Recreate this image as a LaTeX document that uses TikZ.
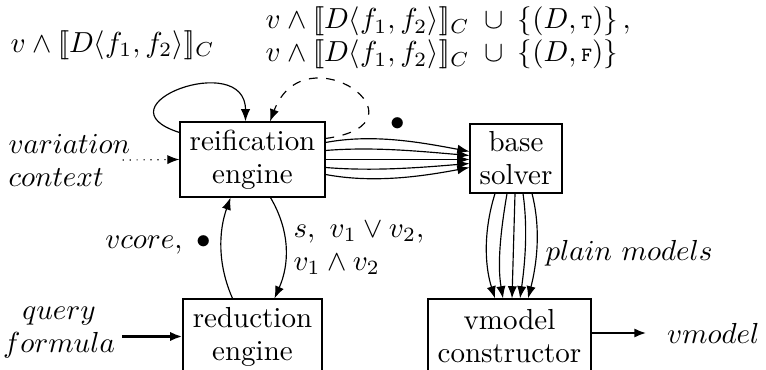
\documentclass[tikz,border=0pt]{standalone}
\usetikzlibrary{calc,arrows.meta}
\tikzset{every picture/.style={line width=0.4pt}}
\tikzset{block/.style={draw,align=center,inner sep=0pt},
  lbl/.style={inner sep=0pt},
  >={Latex[length=4.2pt,width=3.2pt]}}

\begin{document}
\begin{tikzpicture}[x=0.345pt,y=0.345pt,yscale=-1,xscale=1]
\useasboundingbox (0,0) rectangle (766,370);

%Blocks
\node[block,minimum width=50pt,minimum height=25.9pt] (reif) at (252.5,159.5) {reification\\[-0.6pt]engine};
\node[block,minimum width=48pt,minimum height=25.9pt] (red) at (252.5,336.5) {reduction\\[-0.6pt]engine};
\node[block,minimum width=31.7pt,minimum height=23.8pt] (base) at (516,158.5) {base\\[-0.6pt]solver};
\node[block,minimum width=56.2pt,minimum height=25.9pt] (vcon) at (509.5,336.5) {vmodel\\[-0.6pt]constructor};

%Text Nodes
\node[lbl,anchor=west,align=left] (ctx) at (8,160) {$variation$\\[-0.6pt]$context$};
\node[lbl,align=center] (qf) at (59,333) {$query$\\[-0.6pt]$formula$};
\node[lbl,anchor=east] (out) at (760,333) {$vmodel$};
\node[lbl,anchor=west] (pm) at (545,253) {$plain\ models$};
\node[lbl,anchor=east] (vc) at (212,245) {$vcore,\ \bullet$};
\node[lbl,anchor=west,align=left] (sv) at (293,248) {$s,\ v_1\lor v_2,$\\[-0.6pt]$v_1\land v_2$};
\node[lbl] (dot) at (398,124) {$\bullet$};
\node[lbl,anchor=west] (lpl) at (10,45) {$v\land[\![D\langle f_1,f_2\rangle]\!]_C$};
\node[lbl,anchor=west,align=left] (lpd) at (265,38)
  {$v\land[\![D\langle f_1,f_2\rangle]\!]_C\;\cup\;\{(D,\mbox{\scriptsize\texttt{T}})\}\,,$\\[-0.6pt]
   $v\land[\![D\langle f_1,f_2\rangle]\!]_C\;\cup\;\{(D,\mbox{\scriptsize\texttt{F}})\}$};

%Inputs and output
\draw[->,dotted] ($(ctx.east)+(-8,0)$) -- (reif.west);
\draw[->,line width=0.8pt] ($(qf.east |- red.west)+(7,0)$) -- (red.west);
\draw[->,line width=0.8pt] (vcon.east |- out.west) -- ($(out.west)+(-20,0)$);

%Self loops
\draw[->] ($(reif.west)+(0,-27)$) .. controls +(-85,-27) and +(0,-72) .. ($(reif.north)+(-7,0)$);
\draw[->,dashed] ($(reif.east)+(0,-21)$) .. controls +(110,-15) and +(35,-92) .. ($(reif.north)+(17.5,0)$);

%reification <-> reduction
\draw[->] ($(red.north)+(-20,0)$) .. controls +(-15,-34) and +(-12,34) .. ($(reif.south)+(-22,0)$);
\draw[->] ($(reif.south)+(18,0)$) .. controls +(20,34) and +(15,-34) .. ($(red.north)+(22,0)$);

%reification -> base solver
\draw[->] ($(reif.east)+(0,-17)$) .. controls +(48,-9) and +(-48,-9) .. ($(base.west)+(0,-7)$);
\draw[->] ($(reif.east)+(0,-9)$) .. controls +(48,-4) and +(-48,-4) .. ($(base.west)+(0,-3)$);
\draw[->] (reif.east) -- ($(base.west)+(0,1)$);
\draw[->] ($(reif.east)+(0,8)$) .. controls +(48,4) and +(-48,4) .. ($(base.west)+(0,5)$);
\draw[->] ($(reif.east)+(0,15)$) .. controls +(48,9) and +(-48,9) .. ($(base.west)+(0,9)$);

%base solver -> vmodel constructor
\draw[->] ($(base.south)+(-21,0)$) .. controls +(-11,35) and +(-11,-35) .. ($(vcon.north)+(-14.5,0)$);
\draw[->] ($(base.south)+(-9,0)$) .. controls +(-6,35) and +(-6,-35) .. ($(vcon.north)+(-6.5,0)$);
\draw[->] ($(base.south)+(-1,0)$) -- ($(vcon.north)+(2.5,0)$);
\draw[->] ($(base.south)+(7,0)$) .. controls +(5,35) and +(5,-35) .. ($(vcon.north)+(10.5,0)$);
\draw[->] ($(base.south)+(16,0)$) .. controls +(9,35) and +(9,-35) .. ($(vcon.north)+(18.5,0)$);
\end{tikzpicture}
\end{document}
